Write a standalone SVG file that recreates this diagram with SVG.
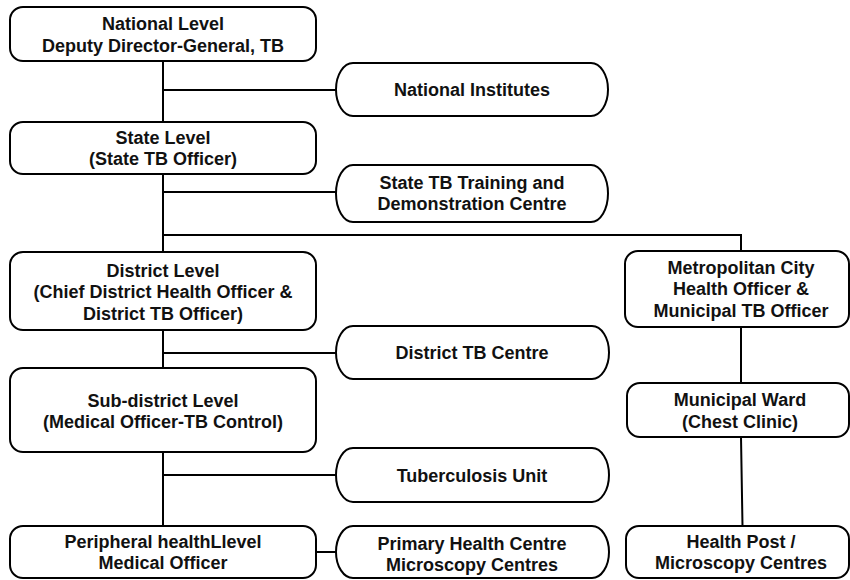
<svg xmlns="http://www.w3.org/2000/svg" width="850" height="580" viewBox="0 0 850 580">
<style>
.box{fill:#fff;stroke:#000;stroke-width:2}
.pill{fill:#fff;stroke:#000;stroke-width:2}
.ln{stroke:#000;stroke-width:2;fill:none}
text{font-family:"Liberation Sans",Arial,sans-serif;font-weight:bold;font-size:18px;fill:#111;text-anchor:middle}
</style>
<rect width="850" height="580" fill="#fff"/>
<g id="connectors">
<path class="ln" d="M163 61V122M163 174V252M163 330V368M163 452V526"/>
<path class="ln" d="M163 90H336M163 192H336M163 235H741V251M163 353H336M163 475H336M316 552H336"/>
<path class="ln" d="M741 327V383M741 437L742.5 526"/>
</g>
<g id="national">
<rect class="box" x="10" y="7" width="306" height="54" rx="13"/>
<text x="163" y="30">National Level</text>
<text x="163" y="51.5">Deputy Director-General, TB</text>
</g>
<g id="institutes">
<rect class="pill" x="336" y="63" width="272" height="53" rx="17" ry="26.5"/>
<text x="472" y="96">National Institutes</text>
</g>
<g id="state">
<rect class="box" x="10" y="122" width="306" height="52" rx="13"/>
<text x="163" y="143.5">State Level</text>
<text x="163" y="165">(State TB Officer)</text>
</g>
<g id="training">
<rect class="pill" x="336" y="165" width="272" height="57" rx="17" ry="28.5"/>
<text x="472" y="188.5">State TB Training and</text>
<text x="472" y="210">Demonstration Centre</text>
</g>
<g id="district">
<rect class="box" x="10" y="252" width="306" height="78" rx="13"/>
<text x="163" y="276.5">District Level</text>
<text x="163" y="298">(Chief District Health Officer &amp;</text>
<text x="163" y="319.5">District TB Officer)</text>
</g>
<g id="metro">
<rect class="box" x="625" y="251" width="224" height="76" rx="13"/>
<text x="741" y="273.5">Metropolitan City</text>
<text x="741" y="295">Health Officer &amp;</text>
<text x="741" y="316.5">Municipal TB Officer</text>
</g>
<g id="dtc">
<rect class="pill" x="336" y="326" width="273" height="53" rx="17" ry="26.5"/>
<text x="472" y="359">District TB Centre</text>
</g>
<g id="subdistrict">
<rect class="box" x="10" y="368" width="306" height="84" rx="13"/>
<text x="163" y="406.5">Sub-district Level</text>
<text x="163" y="428">(Medical Officer-TB Control)</text>
</g>
<g id="ward">
<rect class="box" x="627" y="383" width="222" height="54" rx="13"/>
<text x="740" y="406">Municipal Ward</text>
<text x="740" y="427.5">(Chest Clinic)</text>
</g>
<g id="tu">
<rect class="pill" x="336" y="448" width="273" height="54" rx="17" ry="27"/>
<text x="472" y="481.5">Tuberculosis Unit</text>
</g>
<g id="peripheral">
<rect class="box" x="10" y="526" width="306" height="52" rx="13"/>
<text x="163" y="548">Peripheral healthLlevel</text>
<text x="163" y="569">Medical Officer</text>
</g>
<g id="phc">
<rect class="pill" x="336" y="526" width="273" height="52" rx="17" ry="26"/>
<text x="472" y="549.5">Primary Health Centre</text>
<text x="472" y="570.5">Microscopy Centres</text>
</g>
<g id="healthpost">
<rect class="box" x="626" y="526" width="223" height="52" rx="13"/>
<text x="741" y="548">Health Post /</text>
<text x="741" y="569">Microscopy Centres</text>
</g>
</svg>
